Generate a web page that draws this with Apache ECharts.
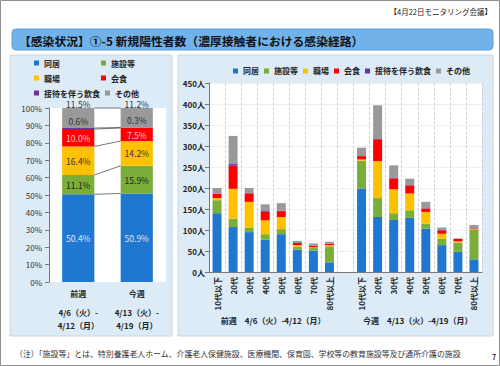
<!DOCTYPE html>
<html><head><meta charset="utf-8">
<script src="https://cdn.jsdelivr.net/npm/echarts@6/dist/echarts.min.js"></script>
<style>html,body{margin:0;padding:0;background:#fff}#c{width:500px;height:366px}</style>
</head><body><div id="c"></div>
<script>
const seriesNames = ['同居','施設等','職場','会食','接待を伴う飲食','その他'];
const colors = ['#1f77d0','#7aae38','#ffc000','#ff0000','#7030a0','#999999'];

// left: percentage composition
const leftCats = ['前週','今週'];
const leftDates = [['4/6（火）-','4/12（月）'],['4/13（火）-','4/19（月）']];
const pctDokyo = [50.4, 50.9];
const pctShisetsu = [11.1, 15.9];
const pctShokuba = [16.4, 14.2];
const pctKaishoku = [10.0, 7.5];
const pctSettai = [0.6, 0.3];
const pctOther = [11.5, 11.2];

// right: counts by age
const ageGroups = ['10代以下','20代','30代','40代','50代','60代','70代','80代以上'];
const groupLabels = ['前週　4/6（火）-4/12（月）','今週　4/13（火）-4/19（月）'];
const yTicksRight = [0, 450, 50];
const prevDokyo = [140,107,95,77,90,53,51,23];
const prevShisetsu = [31,20,11,13,12,7,6,38];
const prevShokuba = [5,71,61,33,29,4,2,3];
const prevKaishoku = [10,55,20,20,14,5,4,3];
const prevSettai = [1,4,1,2,1,0,0,0];
const prevOther = [13,67,12,16,18,5,5,5];
const curDokyo = [199,131,124,129,103,64,48,30];
const curShisetsu = [66,45,16,18,12,15,22,71];
const curShokuba = [3,88,57,40,28,12,3,1];
const curKaishoku = [8,52,26,19,8,8,6,2];
const curSettai = [0,2,1,1,1,1,0,0];
const curOther = [20,79,30,15,15,6,1,8];

const pctSets = [pctDokyo,pctShisetsu,pctShokuba,pctKaishoku,pctSettai,pctOther];
const prevSets = [prevDokyo,prevShisetsu,prevShokuba,prevKaishoku,prevSettai,prevOther];
const curSets = [curDokyo,curShisetsu,curShokuba,curKaishoku,curSettai,curOther];
const rightCats = ageGroups.concat(['']).concat(ageGroups);

const FF = '"Noto Sans CJK JP","Noto Sans",sans-serif';
const labelColors = ['#dce9f8','#222','#333','#ffc4c4','#333','#333'];

const leftSeries = pctSets.map((d,k)=>{
  const lab = {show:true, fontSize:8.5, fontFamily:FF, color:labelColors[k], formatter:p=>Number(p.value).toFixed(1)+'%'};
  if (k===4) { lab.position='top'; lab.distance=3; }
  else if (k===5) { lab.position='top'; lab.distance=0; }
  else lab.position='inside';
  return {name:seriesNames[k], type:'bar', stack:'pct', xAxisIndex:0, yAxisIndex:0,
    barWidth:'55%', data:d, itemStyle:{color:colors[k]}, label:lab};
});

// connector lines between cumulative boundaries
const connData = [];
let c0=0, c1=0;
for (let k=0;k<pctSets.length;k++){ c0+=pctSets[k][0]; c1+=pctSets[k][1]; connData.push([0, c0, c1]); }
const connector = {type:'custom', xAxisIndex:0, yAxisIndex:0, data:connData, encode:{x:0,y:1}, z:5, silent:true,
  renderItem:(params, api)=>{
    const p1 = api.coord([0, api.value(1)]);
    const p2 = api.coord([1, api.value(2)]);
    const hw = api.size([1,0])[0]*0.55/2;
    return {type:'line', shape:{x1:p1[0]+hw, y1:p1[1], x2:p2[0]-hw, y2:p2[1]}, style:{stroke:'#555', lineWidth:0.8}};
  }};

const rightSeries = seriesNames.map((n,k)=>({name:n, type:'bar', stack:'cnt', xAxisIndex:1, yAxisIndex:1,
  barWidth:'56%', data:prevSets[k].concat(['-']).concat(curSets[k]), itemStyle:{color:colors[k]}}));

const groupCenters = [ageGroups.length/2, ageGroups.length + 1 + ageGroups.length/2];

const chart = echarts.init(document.getElementById('c'), null, {renderer:'svg'});
chart.setOption({
  animation:false,
  textStyle:{fontFamily:FF},
  color:colors,
  graphic:[
    {type:'rect', z:-10, shape:{x:0.5,y:0.5,width:499,height:365}, style:{fill:'#fff', stroke:'#8f8f8f', lineWidth:1}},
    {type:'rect', z:-9, shape:{x:12,y:29,width:481,height:21,r:4}, style:{fill:'#72b2ea', stroke:'#5d9fd8', lineWidth:1}},
    {type:'text', z:-8, x:19, y:40, style:{text:'【感染状況】①-5 新規陽性者数（濃厚接触者における感染経路）', fontSize:11.8, fontWeight:'bold', fill:'#111', fontFamily:FF, verticalAlign:'middle'}},
    {type:'text', z:-8, x:492, y:11, style:{text:'【4月22日モニタリング会議】', fontSize:7.5, fill:'#222', fontFamily:FF, align:'right', verticalAlign:'middle'}},
    {type:'rect', z:-9, shape:{x:10,y:55,width:162,height:281}, style:{fill:'#ddebf7', stroke:'#c8d6e4', lineWidth:1}},
    {type:'rect', z:-9, shape:{x:178,y:55,width:315,height:281}, style:{fill:'#ddebf7', stroke:'#c8d6e4', lineWidth:1}},
    {type:'text', z:-8, x:15, y:353, style:{text:'（注）「施設等」とは、特別養護老人ホーム、介護老人保健施設、医療機関、保育園、学校等の教育施設等及び通所介護の施設', fontSize:7.9, fill:'#333', fontFamily:FF, verticalAlign:'middle'}},
    {type:'text', z:-8, x:494, y:357, style:{text:'7', fontSize:7, fontWeight:'bold', fill:'#333', fontFamily:FF, align:'center', verticalAlign:'middle'}}
  ],
  legend:[
    {data:seriesNames, left:34, top:58, width:140, padding:0, itemWidth:5, itemHeight:5, itemGap:5, icon:'rect',
      formatter:n=>'{a|'+n+'}',
      textStyle:{fontSize:8, fontWeight:'bold', color:'#222', lineHeight:10, rich:{a:{width:52, fontSize:8, fontWeight:'bold', color:'#222', lineHeight:10}}}},
    {data:seriesNames, left:233, top:67, padding:0, itemWidth:5, itemHeight:5, itemGap:5, icon:'rect',
      textStyle:{fontSize:8, fontWeight:'bold', color:'#222'}}
  ],
  grid:[
    {left:49, right:334, top:108, bottom:84, show:true, backgroundColor:'#fff', borderWidth:0},
    {left:209, right:18, top:83, bottom:94, show:true, backgroundColor:'#fff', borderWidth:0}
  ],
  xAxis:[
    {type:'category', gridIndex:0, data:leftCats,
      axisLine:{show:false}, axisTick:{show:false},
      axisLabel:{margin:4, interval:0, formatter:(v,i)=>'{a|'+v+'}\n{s| }\n{b|'+leftDates[i][0]+'}\n{b|'+leftDates[i][1]+'}',
        rich:{a:{fontSize:8, fontWeight:'bold', color:'#222', lineHeight:14},
              s:{fontSize:1, lineHeight:6},
              b:{fontSize:8, fontWeight:'bold', color:'#222', lineHeight:13}}}},
    {type:'category', gridIndex:1, data:rightCats,
      axisLine:{show:true, lineStyle:{color:'#777'}}, axisTick:{show:false},
      splitLine:{show:true, lineStyle:{type:'dashed', color:'#c8c8c8', width:0.8}},
      axisLabel:{rotate:90, interval:0, margin:5, fontSize:8, fontWeight:'bold', color:'#222'}},
    {type:'value', gridIndex:1, min:0, max:rightCats.length, interval:1, position:'bottom',
      axisLine:{show:false}, axisTick:{show:false}, splitLine:{show:false},
      axisLabel:{margin:44, fontSize:8, fontWeight:'bold', color:'#222', showMinLabel:true, showMaxLabel:true,
        formatter:v=>{const i=groupCenters.indexOf(v); return i>=0?groupLabels[i]:'';}}}
  ],
  yAxis:[
    {type:'value', gridIndex:0, min:0, max:100, interval:10,
      axisLine:{show:true, lineStyle:{color:'#777'}}, axisTick:{show:true, length:4, lineStyle:{color:'#777'}},
      splitLine:{show:false},
      axisLabel:{margin:7, fontSize:8, color:'#333', formatter:'{value}%'}},
    {type:'value', gridIndex:1, min:yTicksRight[0], max:yTicksRight[1], interval:yTicksRight[2],
      axisLine:{show:true, lineStyle:{color:'#777'}}, axisTick:{show:true, length:4, lineStyle:{color:'#777'}},
      splitLine:{show:true, lineStyle:{color:'#ececec', width:0.8}},
      axisLabel:{margin:4, fontSize:8, fontWeight:'bold', color:'#222', formatter:'{value}人'}}
  ],
  series: leftSeries.concat([connector]).concat(rightSeries)
});
</script></body></html>
